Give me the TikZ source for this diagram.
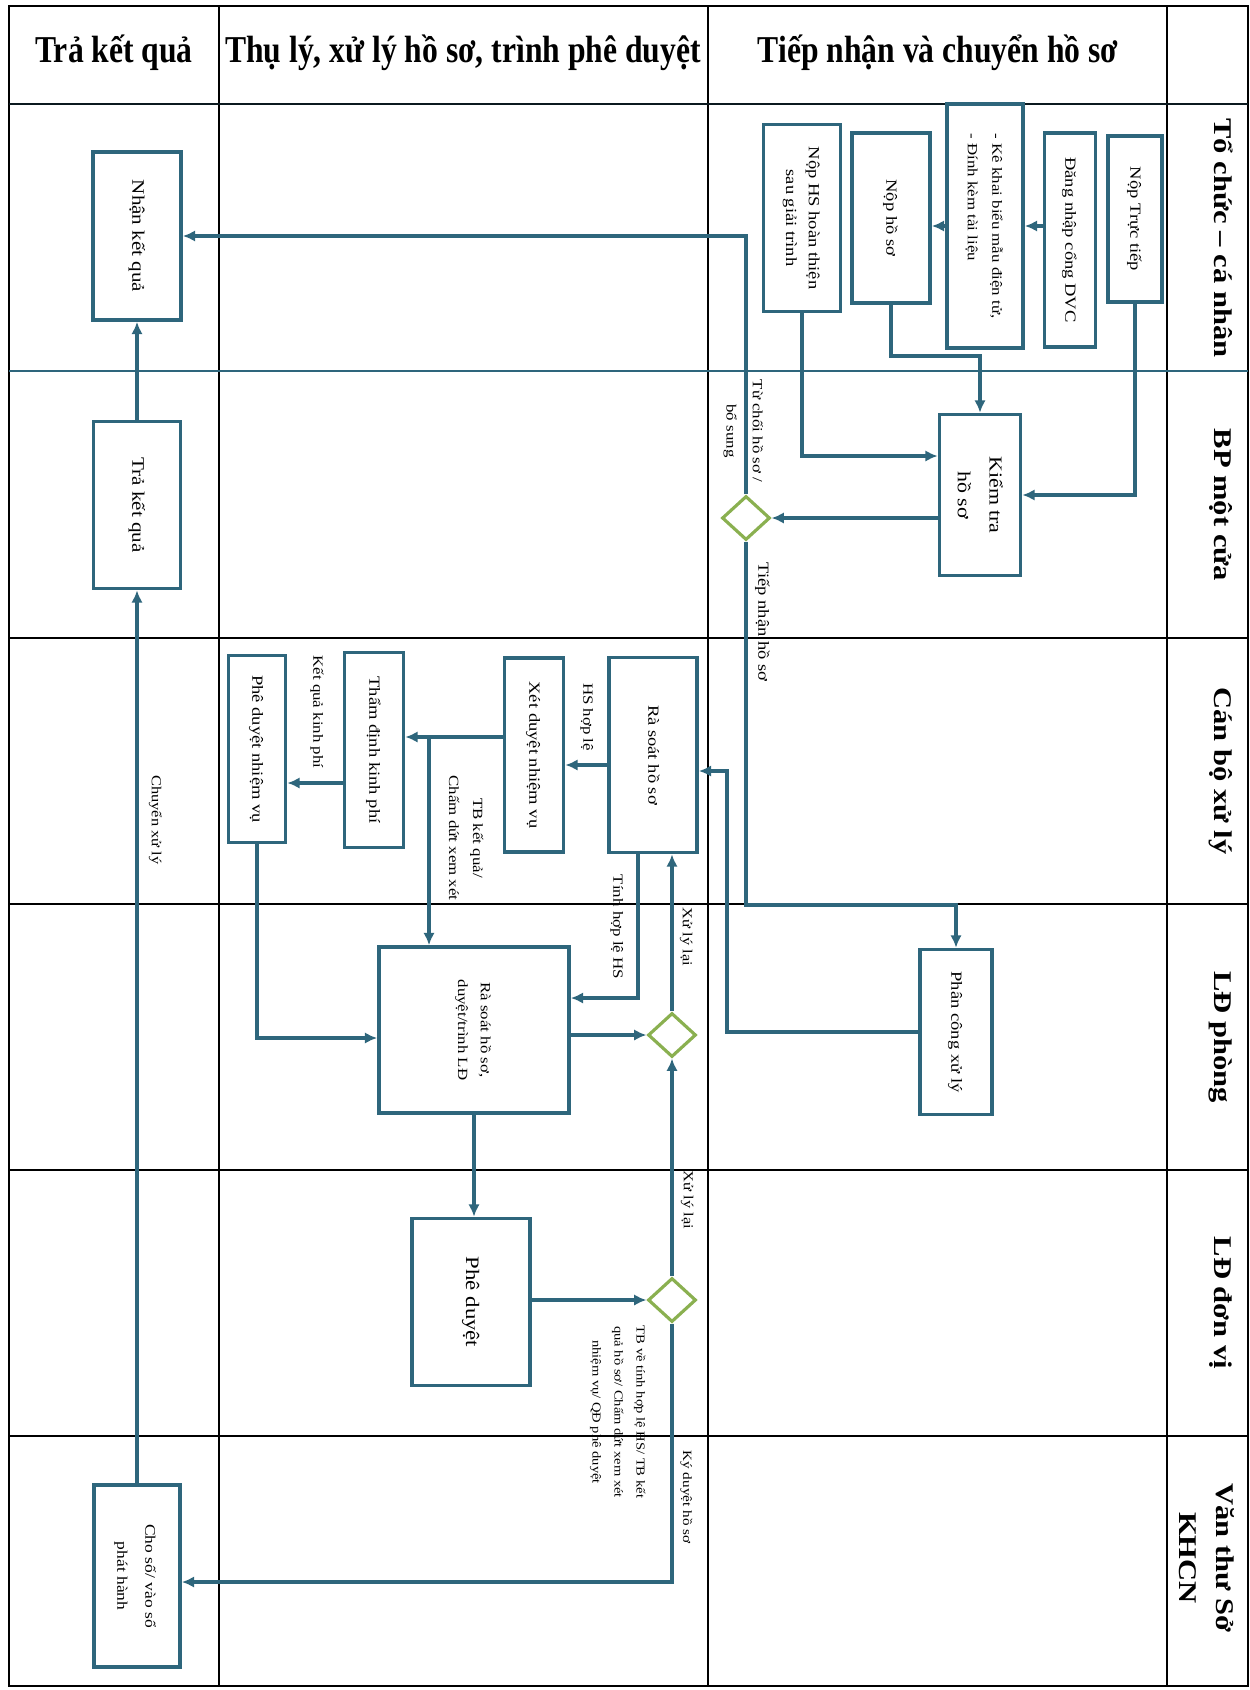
\documentclass[tikz,border=0pt]{standalone}
\usepackage{fontspec}
\usepackage{graphicx}
\setmainfont{Liberation Serif}
\usetikzlibrary{arrows.meta,shapes.geometric}

\definecolor{flowBlue}{RGB}{46,102,124}
\definecolor{flowGreen}{RGB}{138,176,80}

%% rotated text, stretched like the scanned chart
\newcommand{\vtext}[1]{\scalebox{1}[1.2]{\rotatebox{-90}{\begin{tabular}{@{}c@{}}#1\end{tabular}}}}
\newcommand{\vtextl}[1]{\scalebox{1}[1.2]{\rotatebox{-90}{\begin{tabular}{@{}l@{}}#1\end{tabular}}}}
\newcommand{\htext}[1]{\scalebox{1}[1.2]{#1}}

\begin{document}
\begin{tikzpicture}
[x=0.02cm, y=-0.02cm,
  gridDecorate/.style={draw=black, line width=1.1pt},
  boxSize/.style 2 args={minimum width=#1*0.02cm, minimum height=#2*0.02cm},
  boxDecorate/.style={draw=flowBlue, line width=2.1pt, fill=white, inner sep=0pt,
    font=\fontsize{8.8}{13}\selectfont},
  choiceDecorate/.style={shape=diamond, draw=flowGreen, line width=1.8pt, fill=white,
    inner sep=0pt, minimum width=0.96cm, minimum height=0.88cm},
  arrowDecorate/.style={draw=flowBlue, line width=1.8pt, -{Latex[length=7pt,width=6.5pt]}},
  labelDecorate/.style={inner sep=0pt, font=\fontsize{8}{13.5}\selectfont},
  headDecorate/.style={inner sep=0pt, font=\bfseries\fontsize{18}{20}\selectfont},
  laneDecorate/.style={inner sep=0pt, font=\bfseries\fontsize{14.5}{21}\selectfont}]
\useasboundingbox (0,0) rectangle (1250,1690);

%% swimlane grid
\draw[gridDecorate] (9,6) rectangle (1248,1686);
\foreach \x in {219,708,1167}
{
  \draw[gridDecorate] (\x,6) -- (\x,1686);
}
\foreach \y in {638,904,1170,1436}
{
  \draw[gridDecorate] (9,\y) -- (1248,\y);
}
\draw[line width=1.7pt, draw=black!75!flowBlue] (9,104) -- (1248,104);
\draw[line width=0.8pt, draw=flowBlue] (9,371) -- (1248,371);

%% column headings and lanes
\node (headTra) at (114,53) [headDecorate] {\htext{Trả kết quả}};
\node (headThu) at (463,53) [headDecorate] {\htext{Thụ lý, xử lý hồ sơ, trình phê duyệt}};
\node (headTiep) at (938,53) [headDecorate] {\htext{Tiếp nhận và chuyển hồ sơ}};
\foreach \lanename/\y/\lanetext in {
  laneToChuc/238/Tổ chức – cá nhân, laneMotCua/505/BP một cửa,
  laneCanBo/771/Cán bộ xử lý, lanePhong/1037/LĐ phòng, laneDonVi/1303/LĐ đơn vị}
{
  \node (\lanename) at (1222,\y) [laneDecorate] {\vtext{\lanetext}};
}
\node (laneVanThu) at (1205,1558) [laneDecorate] {\vtext{Văn thư Sở\\KHCN}};

%% steps
\node (nopTT) at (1135,219) [boxDecorate, boxSize={54}{166}] {\vtext{Nộp Trực tiếp}};
\node (dangNhap) at (1070,240) [boxDecorate, boxSize={51}{214}] {\vtext{Đăng nhập cổng DVC}};
\node (keKhai) at (985,226) [boxDecorate, boxSize={76}{244},
  font=\fontsize{8}{14}\selectfont] {\vtextl{- Kê khai biểu mẫu điện tử,\\- Đính kèm tài liệu}};
\node (nopHS) at (891,218) [boxDecorate, boxSize={78}{170}] {\vtext{Nộp hồ sơ}};
\node (nopHT) at (802,218) [boxDecorate, boxSize={77}{187}] {\vtext{Nộp HS hoàn thiện\\sau giải trình}};
\node (kiemTra) at (980,495) [boxDecorate, boxSize={81}{161},
  font=\fontsize{10.4}{18}\selectfont] {\vtext{Kiểm tra\\hồ sơ}};
\node (phanCong) at (956,1032) [boxDecorate, boxSize={72}{165}] {\vtext{Phân công xử lý}};
\node (raSoat) at (653,755) [boxDecorate, boxSize={88}{195}] {\vtext{Rà soát hồ sơ}};
\node (xetDuyet) at (534,755) [boxDecorate, boxSize={59}{194}] {\vtext{Xét duyệt nhiệm vụ}};
\node (thamDinh) at (374,750) [boxDecorate, boxSize={59}{195}] {\vtext{Thẩm định kinh phí}};
\node (pheDuyetNV) at (257,749) [boxDecorate, boxSize={57}{187}] {\vtext{Phê duyệt nhiệm vụ}};
\node (raSoatLD) at (474,1030) [boxDecorate, boxSize={190}{166},
  font=\fontsize{8}{13}\selectfont] {\vtext{Rà soát hồ sơ,\\duyệt/trình LĐ}};
\node (pheDuyet) at (471,1302) [boxDecorate, boxSize={118}{167},
  font=\fontsize{10.8}{14}\selectfont] {\vtext{Phê duyệt}};
\node (nhanKQ) at (137,236) [boxDecorate, boxSize={88}{168},
  font=\fontsize{10}{13}\selectfont] {\vtext{Nhận kết quả}};
\node (traKQ) at (137,505) [boxDecorate, boxSize={87}{167},
  font=\fontsize{10}{13}\selectfont] {\vtext{Trả kết quả}};
\node (choSo) at (137,1576) [boxDecorate, boxSize={86}{182},
  font=\fontsize{8.3}{16}\selectfont] {\vtext{Cho số/ vào sổ\\phát hành}};

%% decisions
\node (chon1) at (746,518) [choiceDecorate] {};
\node (chon2) at (672,1035) [choiceDecorate] {};
\node (chon3) at (672,1300) [choiceDecorate] {};
\coordinate (bendPC) at (727,771);
\coordinate (splitXD) at (429,737);

%% connectors
\draw[arrowDecorate] (dangNhap.west |- keKhai.east) -- (keKhai.east);
\draw[arrowDecorate] (keKhai.west) -- (keKhai.west -| nopHS.east);
\draw[arrowDecorate] (nopTT.south) |- (kiemTra.east);
\draw[arrowDecorate] (nopHS.south) -- (nopHS.south |- 0,356) -| (kiemTra.north);
\draw[arrowDecorate] (nopHT.south) |- (kiemTra.west |- 0,456);
\draw[arrowDecorate] (chon1.east -| kiemTra.west) -- (chon1.east);
\draw[arrowDecorate] (chon1.north) |- (nhanKQ.east);
\draw[arrowDecorate] (chon1.south) -- (chon1.south |- 0,905) -| (phanCong.north);
\draw[arrowDecorate] (phanCong.west) -| (bendPC) -- (raSoat.east |- bendPC);
\draw[arrowDecorate] (raSoat.west |- 0,765) -- (xetDuyet.east |- 0,765);
\draw[arrowDecorate] (xetDuyet.west |- splitXD) -- (thamDinh.east |- splitXD);
\draw[arrowDecorate] (splitXD) -- (splitXD |- raSoatLD.north);
\draw[arrowDecorate] (thamDinh.west |- 0,783) -- (pheDuyetNV.east |- 0,783);
\draw[arrowDecorate] (pheDuyetNV.south) |- (raSoatLD.west |- 0,1038);
\draw[arrowDecorate] (raSoat.south -| 638,0) |- (raSoatLD.east |- 0,998);
\draw[arrowDecorate] (raSoatLD.east |- chon2.west) -- (chon2.west);
\draw[arrowDecorate] (chon2.north) -- (chon2.north |- raSoat.south);
\draw[arrowDecorate] (raSoatLD.south) -- (raSoatLD.south |- pheDuyet.north);
\draw[arrowDecorate] (pheDuyet.east |- chon3.west) -- (chon3.west);
\draw[arrowDecorate] (chon3.north) -- (chon3.north |- chon2.south);
\draw[arrowDecorate] (chon3.south) |- (choSo.east |- 0,1582);
\draw[arrowDecorate] (choSo.north) -- (traKQ.south);
\draw[arrowDecorate] (traKQ.north) -- (nhanKQ.south);

%% connector labels
\node (lblTuChoi) at (745,431) [labelDecorate, font=\fontsize{8}{15}\selectfont]
  {\vtext{Từ chối hồ sơ /\\bổ sung}};
\node (lblTiepNhan) at (762,622) [labelDecorate, font=\fontsize{8.8}{10}\selectfont]
  {\vtext{Tiếp nhận hồ sơ}};
\node (lblHopLe) at (588,717) [labelDecorate] {\vtext{HS hợp lệ}};
\node (lblTBKetQua) at (466,838) [labelDecorate, font=\fontsize{8}{13.7}\selectfont]
  {\vtext{TB kết quả/\\Chấm dứt xem xét}};
\node (lblKinhPhi) at (318,712) [labelDecorate] {\vtext{Kết quả kinh phí}};
\node (lblTinhHopLe) at (618,927) [labelDecorate] {\vtext{Tính hợp lệ HS}};
\node (lblXuLy1) at (686,937) [labelDecorate, font=\fontsize{7.8}{9}\selectfont] {\vtext{Xử lý lại}};
\node (lblXuLy2) at (687,1200) [labelDecorate, font=\fontsize{7.8}{9}\selectfont] {\vtext{Xử lý lại}};
\node (lblKyDuyet) at (686,1497) [labelDecorate, font=\fontsize{7.2}{8}\selectfont] {\vtext{Ký duyệt hồ sơ}};
\node (lblThongBao) at (619,1412) [labelDecorate, font=\fontsize{6.9}{12.5}\selectfont]
  {\vtext{TB về tính hợp lệ HS/ TB kết\\quả hồ sơ/ Chấm dứt xem xét\\nhiệm vụ/ QĐ phê duyệt}};
\node (lblChuyen) at (155,820) [labelDecorate, font=\fontsize{7.8}{9}\selectfont] {\vtext{Chuyển xử lý}};
\end{tikzpicture}
\end{document}
